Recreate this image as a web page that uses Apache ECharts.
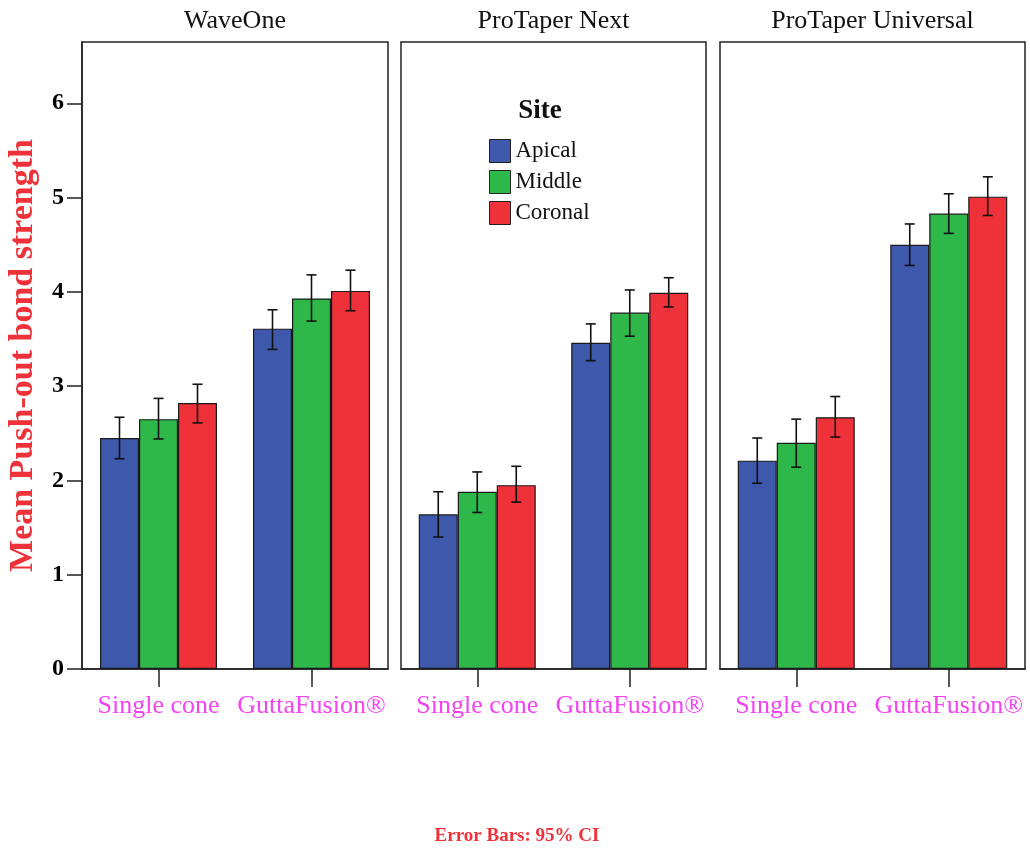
<!DOCTYPE html>
<html>
<head>
<meta charset="utf-8">
<script src="https://cdn.jsdelivr.net/npm/echarts@6/dist/echarts.min.js"></script>
<style>
  html, body { margin: 0; padding: 0; background: #fff; }
  #chart { width: 1030px; height: 850px; }
</style>
</head>
<body>
<div id="chart"></div>
<script>
// data (panels in order WaveOne, ProTaper Next, ProTaper Universal)
var systems = ['WaveOne', 'ProTaper Next', 'ProTaper Universal'];
var techniques = ['Single cone', 'GuttaFusion®'];
var sites = ['Apical', 'Middle', 'Coronal'];
var yTicks = [0, 1, 2, 3, 4, 5, 6];

// means, 2 values per panel
var apicalMean  = [2.45, 3.61, 1.64, 3.46, 2.21, 4.50];
var middleMean  = [2.65, 3.93, 1.88, 3.78, 2.40, 4.83];
var coronalMean = [2.82, 4.01, 1.95, 3.99, 2.67, 5.01];
// 95% CI
var apicalLow   = [2.23, 3.39, 1.40, 3.27, 1.97, 4.28];
var apicalHigh  = [2.67, 3.81, 1.88, 3.66, 2.45, 4.72];
var middleLow   = [2.44, 3.69, 1.66, 3.53, 2.14, 4.62];
var middleHigh  = [2.87, 4.18, 2.09, 4.02, 2.65, 5.04];
var coronalLow  = [2.61, 3.80, 1.77, 3.84, 2.46, 4.81];
var coronalHigh = [3.02, 4.23, 2.15, 4.15, 2.89, 5.22];

var siteColors = ['#3e58ab', '#2fb84a', '#ef3239'];
var means = [apicalMean, middleMean, coronalMean];
var lows = [apicalLow, middleLow, coronalLow];
var highs = [apicalHigh, middleHigh, coronalHigh];

var serif = "'Liberation Serif', 'Times New Roman', serif";
var barW = 39;
var panelLeft = [82, 401, 720];
var panelW = [306, 305, 305];

var grids = [], xAxes = [], yAxes = [], series = [], texts = [];

systems.forEach(function (sys, p) {
  grids.push({
    left: panelLeft[p], width: panelW[p], top: 42, height: 627,
    show: true, borderColor: '#222', borderWidth: 1.5, backgroundColor: '#fff'
  });
  xAxes.push({
    type: 'category', gridIndex: p, data: techniques,
    axisLine: { show: true, lineStyle: { color: '#222', width: 1.5 } },
    axisTick: { show: true, alignWithLabel: true, interval: 0, length: 18,
                lineStyle: { color: '#222', width: 1.5 } },
    axisLabel: { interval: 0, hideOverlap: false, color: '#f542f5', fontFamily: serif, fontSize: 26, margin: 24 }
  });
  var first = p === 0;
  yAxes.push({
    type: 'value', gridIndex: p, min: 0, max: 6.65,
    axisLine: { show: first, lineStyle: { color: '#222', width: 1.5 } },
    axisTick: { show: first, length: 15, customValues: yTicks, lineStyle: { color: '#222', width: 1.5 } },
    axisLabel: { show: first, customValues: yTicks, color: '#000', fontFamily: serif,
                 fontSize: 24, fontWeight: 'bold', margin: 18 },
    splitLine: { show: false },
    name: first ? 'Mean Push-out bond strength' : '',
    nameLocation: 'middle', nameGap: 42, nameRotate: 90,
    nameTextStyle: { color: '#ef3239', fontFamily: serif, fontSize: 34, fontWeight: 'bold' }
  });

  sites.forEach(function (site, s) {
    series.push({
      name: site, type: 'bar', xAxisIndex: p, yAxisIndex: p,
      barWidth: barW, barGap: '0%',
      itemStyle: { color: siteColors[s], borderColor: '#1a1a1a', borderWidth: 1.2 },
      data: means[s].slice(p * 2, p * 2 + 2)
    });
  });
  sites.forEach(function (site, s) {
    var d = [0, 1].map(function (t) {
      return [t, lows[s][p * 2 + t], highs[s][p * 2 + t]];
    });
    series.push({
      type: 'custom', xAxisIndex: p, yAxisIndex: p, z: 5, silent: true,
      data: d,
      renderItem: function (params, api) {
        var off = (s - 1) * barW;
        var lo = api.coord([api.value(0), api.value(1)]);
        var hi = api.coord([api.value(0), api.value(2)]);
        var x = lo[0] + off;
        var st = { stroke: '#111', lineWidth: 1.6 };
        return {
          type: 'group',
          children: [
            { type: 'line', shape: { x1: x, y1: lo[1], x2: x, y2: hi[1] }, style: st },
            { type: 'line', shape: { x1: x - 5, y1: lo[1], x2: x + 5, y2: lo[1] }, style: st },
            { type: 'line', shape: { x1: x - 5, y1: hi[1], x2: x + 5, y2: hi[1] }, style: st }
          ]
        };
      }
    });
  });

  texts.push({
    type: 'text', x: panelLeft[p] + panelW[p] / 2, y: 21,
    style: { text: sys, textAlign: 'center', textVerticalAlign: 'middle',
             fontFamily: serif, fontSize: 26, fill: '#111' }
  });
});

texts.push({
  type: 'text', x: 540, y: 111,
  style: { text: 'Site', textAlign: 'center', textVerticalAlign: 'middle',
           fontFamily: serif, fontSize: 27, fontWeight: 'bold', fill: '#111' }
});
texts.push({
  type: 'text', x: 517, y: 836,
  style: { text: 'Error Bars: 95% CI', textAlign: 'center', textVerticalAlign: 'middle',
           fontFamily: serif, fontSize: 19, fontWeight: 'bold', fill: '#ef3239' }
});

var myChart = echarts.init(document.getElementById('chart'));
var option = {
  backgroundColor: '#fff',
  animation: false,
  legend: {
    data: sites, orient: 'vertical', left: 484, top: 134,
    itemWidth: 21, itemHeight: 23, itemGap: 7,
    icon: 'rect',
    itemStyle: { borderColor: '#222', borderWidth: 1 },
    textStyle: { fontFamily: serif, fontSize: 23, color: '#111' }
  },
  grid: grids,
  xAxis: xAxes,
  yAxis: yAxes,
  series: series,
  graphic: texts
};
myChart.setOption(option);
</script>
</body>
</html>
